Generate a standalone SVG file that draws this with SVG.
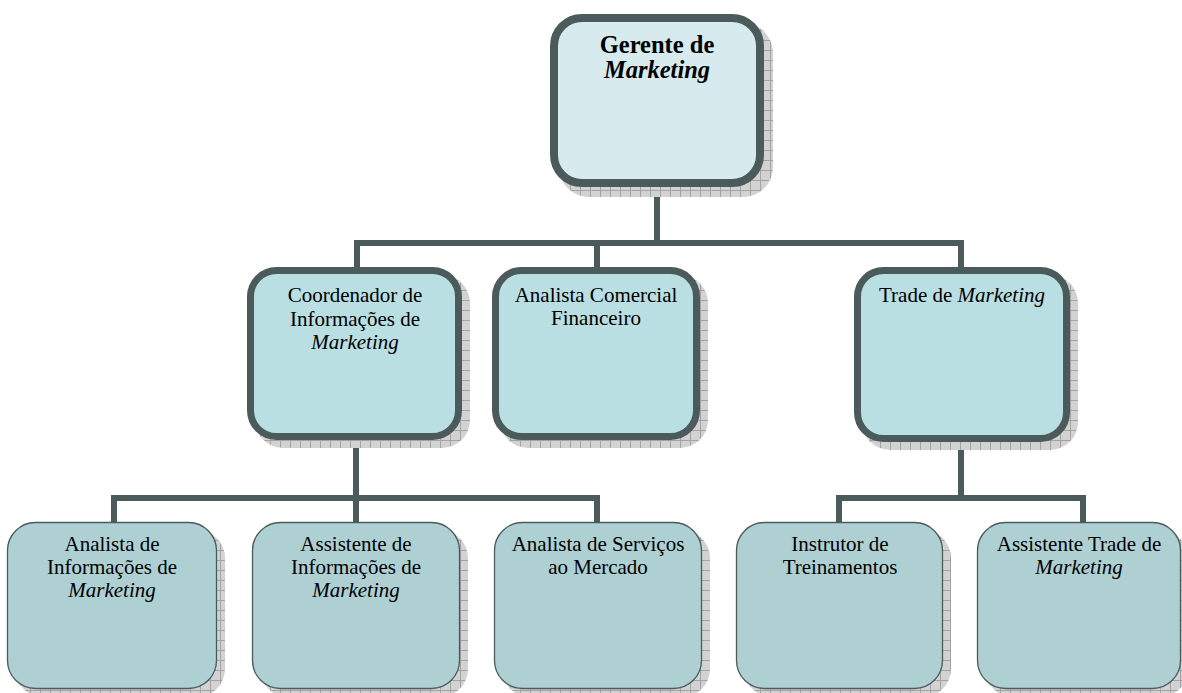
<svg xmlns="http://www.w3.org/2000/svg" width="1182" height="693" viewBox="0 0 1182 693">
  <defs>
    <!-- grey grid hatching used for the drop shadows -->
    <pattern id="hatch" width="10" height="10" patternUnits="userSpaceOnUse">
      <rect width="10" height="10" fill="#d2d2d2"/>
      <path d="M0 0.5H10M0.5 0V10" stroke="#a3a3a3" stroke-width="1" fill="none"/>
    </pattern>
    <style>
      .shadow { fill: url(#hatch); }
      .top { fill: #d7ebee; stroke: #4b5a5b; stroke-width: 8; }
      .mid { fill: #b9dfe2; stroke: #4b5a5b; stroke-width: 7; }
      .low { fill: #aed0d3; stroke: #4b5a5b; stroke-width: 1.3; }
      .lbl { font-family: "Liberation Serif", "Times New Roman", serif; font-size: 21px; fill: #000; text-anchor: middle; }
      .head { font-size: 24.5px; font-weight: bold; }
      .it { font-style: italic; }
      #connectors line { stroke: #4b5a5b; stroke-width: 6; stroke-linecap: square; }
    </style>
  </defs>

  <rect width="1182" height="693" fill="#ffffff"/>

  <!-- connectors -->
  <g id="connectors">
    <line x1="657" y1="187" x2="657" y2="243"/>
    <line x1="357" y1="243" x2="961" y2="243"/>
    <line x1="357" y1="243" x2="357" y2="267"/>
    <line x1="597" y1="243" x2="597" y2="267"/>
    <line x1="961" y1="243" x2="961" y2="267"/>

    <line x1="356" y1="440" x2="356" y2="522"/>
    <line x1="114" y1="498" x2="597" y2="498"/>
    <line x1="114" y1="498" x2="114" y2="522"/>
    <line x1="597" y1="498" x2="597" y2="522"/>

    <line x1="961" y1="442" x2="961" y2="498"/>
    <line x1="839" y1="498" x2="1083" y2="498"/>
    <line x1="839" y1="498" x2="839" y2="522"/>
    <line x1="1083" y1="498" x2="1083" y2="522"/>
  </g>

  <!-- level 1 -->
  <g id="gerente">
    <rect class="shadow" x="559" y="23" width="214" height="174" rx="30"/>
    <rect class="top" x="554" y="18" width="206" height="165" rx="28"/>
    <text class="lbl head" x="657" y="53">Gerente de</text>
    <text class="lbl head it" x="657" y="78">Marketing</text>
  </g>

  <!-- level 2 -->
  <g id="coordenador">
    <rect class="shadow" x="255" y="275" width="215" height="173" rx="28"/>
    <rect class="mid" x="250.5" y="270.5" width="208" height="166" rx="26"/>
    <text class="lbl" x="355" y="302">Coordenador de</text>
    <text class="lbl" x="355" y="326">Informações de</text>
    <text class="lbl it" x="355" y="349">Marketing</text>
  </g>

  <g id="analista-comercial">
    <rect class="shadow" x="500" y="275" width="208" height="173" rx="28"/>
    <rect class="mid" x="495.5" y="270.5" width="201" height="166" rx="26"/>
    <text class="lbl" x="596" y="302">Analista Comercial</text>
    <text class="lbl" x="596" y="325">Financeiro</text>
  </g>

  <g id="trade">
    <rect class="shadow" x="862" y="275" width="216" height="175" rx="28"/>
    <rect class="mid" x="857.5" y="270.5" width="209" height="168" rx="26"/>
    <text class="lbl" x="962" y="302">Trade de <tspan class="it">Marketing</tspan></text>
  </g>

  <!-- level 3 -->
  <g id="analista-informacoes">
    <rect class="shadow" x="15" y="530" width="210" height="167" rx="28"/>
    <rect class="low" x="7.5" y="522.5" width="209" height="166" rx="28"/>
    <text class="lbl" x="112" y="551">Analista de</text>
    <text class="lbl" x="112" y="574">Informações de</text>
    <text class="lbl it" x="112" y="597">Marketing</text>
  </g>

  <g id="assistente-informacoes">
    <rect class="shadow" x="260" y="530" width="208" height="167" rx="28"/>
    <rect class="low" x="252.5" y="522.5" width="207" height="166" rx="28"/>
    <text class="lbl" x="356" y="551">Assistente de</text>
    <text class="lbl" x="356" y="574">Informações de</text>
    <text class="lbl it" x="356" y="597">Marketing</text>
  </g>

  <g id="analista-servicos">
    <rect class="shadow" x="502" y="530" width="208" height="167" rx="28"/>
    <rect class="low" x="494.5" y="522.5" width="207" height="166" rx="28"/>
    <text class="lbl" x="598" y="551">Analista de Serviços</text>
    <text class="lbl" x="598" y="574">ao Mercado</text>
  </g>

  <g id="instrutor">
    <rect class="shadow" x="744" y="530" width="207" height="167" rx="28"/>
    <rect class="low" x="736.5" y="522.5" width="206" height="166" rx="28"/>
    <text class="lbl" x="840" y="551">Instrutor de</text>
    <text class="lbl" x="840" y="574">Treinamentos</text>
  </g>

  <g id="assistente-trade">
    <rect class="shadow" x="985" y="530" width="203" height="167" rx="28"/>
    <rect class="low" x="977.5" y="522.5" width="203" height="166" rx="28"/>
    <text class="lbl" x="1079" y="551">Assistente Trade de</text>
    <text class="lbl it" x="1079" y="574">Marketing</text>
  </g>
</svg>
